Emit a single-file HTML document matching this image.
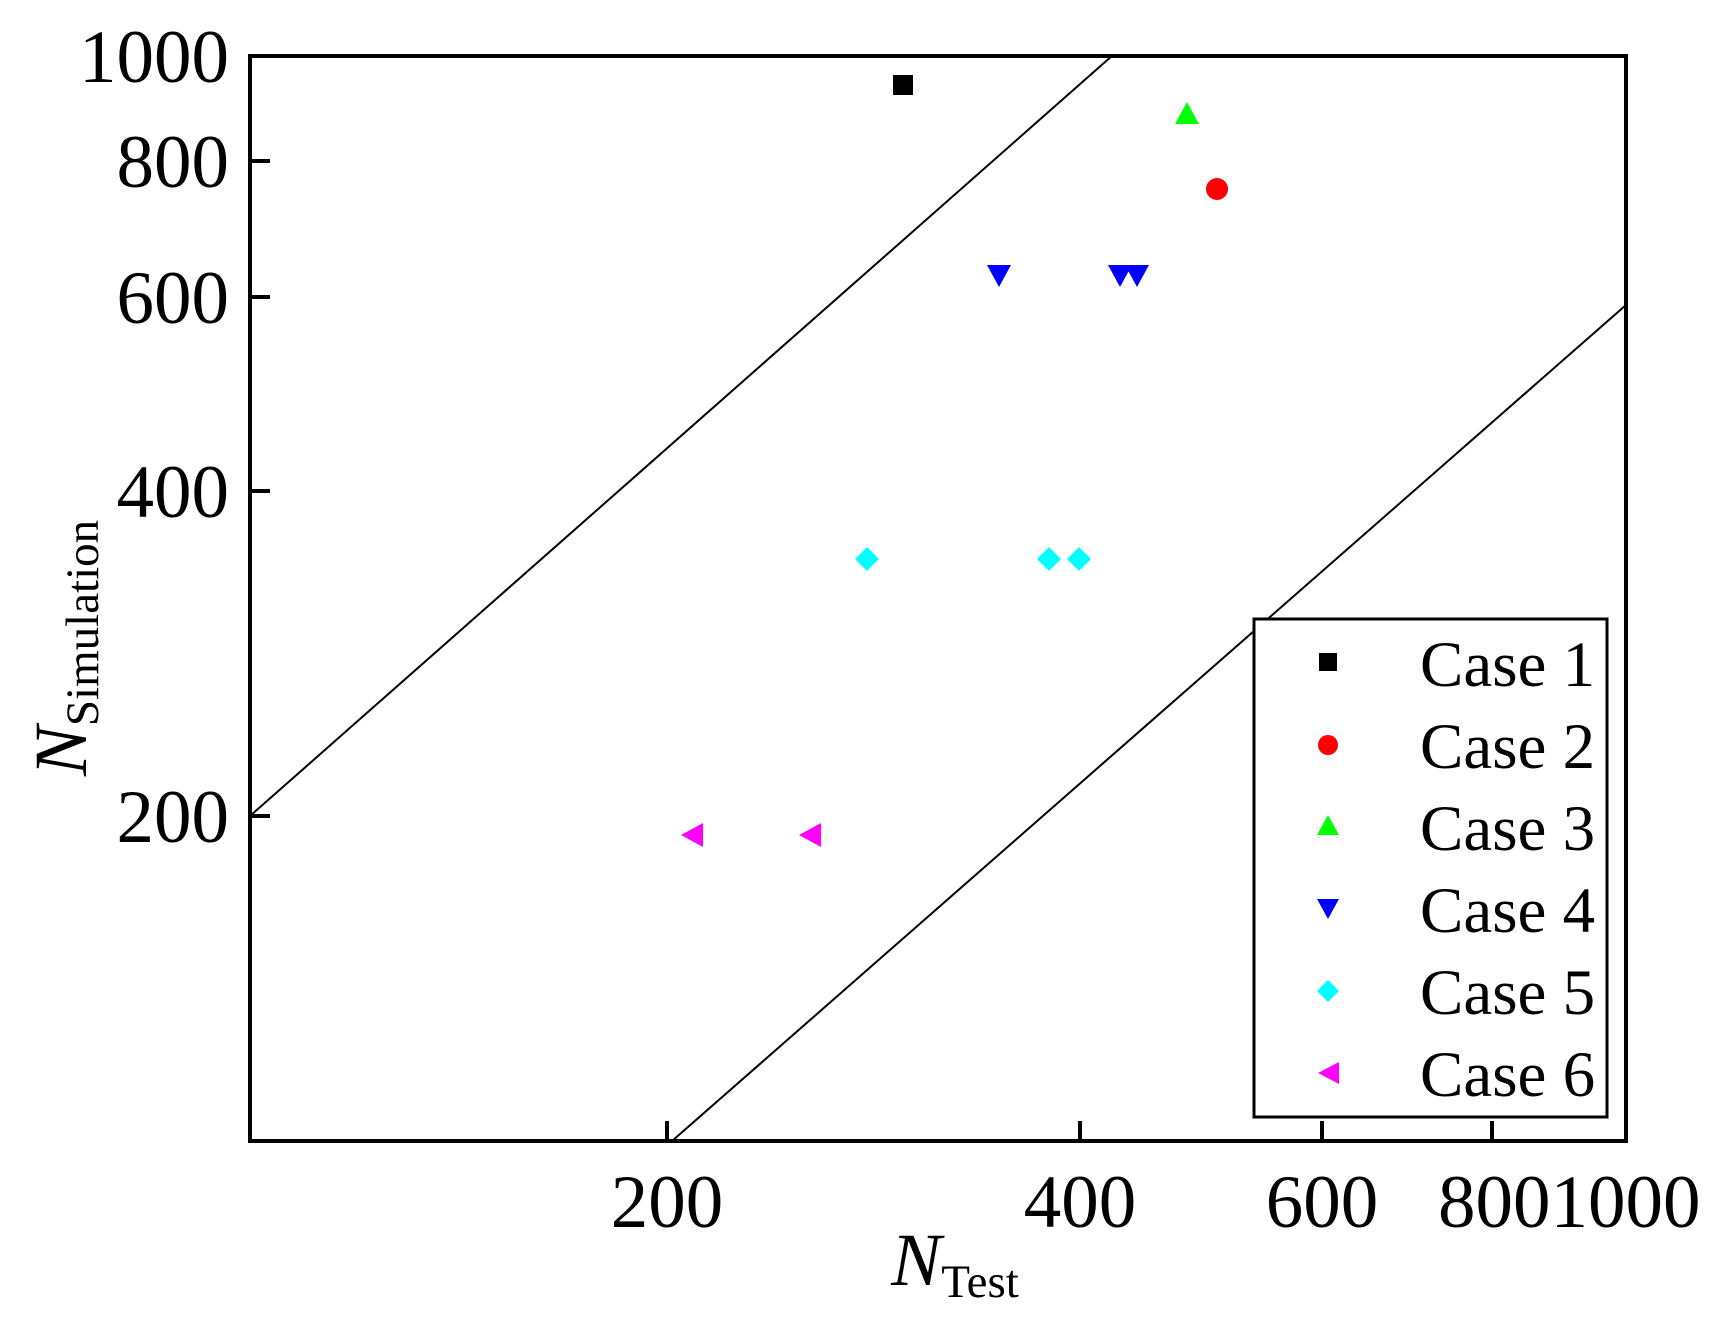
<!DOCTYPE html>
<html><head><meta charset="utf-8"><style>
html,body{margin:0;padding:0;background:#fff;}
svg{display:block;font-family:"Liberation Serif",serif;}
</style></head><body>
<svg width="1721" height="1318" viewBox="0 0 1721 1318" xmlns="http://www.w3.org/2000/svg">
<rect width="1721" height="1318" fill="#fff"/>
<line x1="250" y1="816" x2="1113" y2="55" stroke="#000" stroke-width="2"/>
<line x1="672" y1="1141" x2="1626" y2="305" stroke="#000" stroke-width="2"/>
<rect x="250" y="56" width="1376" height="1085" fill="none" stroke="#000" stroke-width="4"/>
<g stroke="#000" stroke-width="4">
<line x1="250" y1="161" x2="270" y2="161"/>
<line x1="250" y1="297" x2="270" y2="297"/>
<line x1="250" y1="491" x2="270" y2="491"/>
<line x1="250" y1="816" x2="270" y2="816"/>
<line x1="667" y1="1141" x2="667" y2="1121"/>
<line x1="1080" y1="1141" x2="1080" y2="1121"/>
<line x1="1322" y1="1141" x2="1322" y2="1121"/>
<line x1="1492" y1="1141" x2="1492" y2="1121"/>
</g>
<g font-size="75" text-anchor="end">
<text x="229" y="82">1000</text>
<text x="229" y="187">800</text>
<text x="229" y="323">600</text>
<text x="229" y="517">400</text>
<text x="229" y="842">200</text>
</g>
<g font-size="75" text-anchor="middle">
<text x="667" y="1227">200</text>
<text x="1080" y="1227">400</text>
<text x="1322" y="1227">600</text>
</g>
<text x="1438" y="1227" font-size="75">8001000</text>
<text x="955" y="1285" font-size="75" text-anchor="middle"><tspan font-style="italic">N</tspan><tspan font-size="47" dy="12">Test</tspan></text>
<text transform="translate(86,648) rotate(-90)" font-size="75" text-anchor="middle"><tspan font-style="italic">N</tspan><tspan font-size="47" dy="12">Simulation</tspan></text>
<rect x="893" y="75" width="20" height="20" fill="#000"/>
<polygon points="1187,102 1199,124 1175,124" fill="#00ff00"/>
<circle cx="1217" cy="189" r="11" fill="#ff0000"/>
<g fill="#0000ff">
<polygon points="987,265 1011,265 999,287"/>
<polygon points="1108,265 1132,265 1120,287"/>
<polygon points="1125,265 1149,265 1137,287"/>
</g>
<g fill="#00ffff">
<polygon points="867,547 879,559 867,571 855,559"/>
<polygon points="1049,547 1061,559 1049,571 1037,559"/>
<polygon points="1079,547 1091,559 1079,571 1067,559"/>
</g>
<g fill="#ff00ff">
<polygon points="681,835 703,823 703,847"/>
<polygon points="799,835 821,823 821,847"/>
</g>
<rect x="1254" y="619" width="353" height="498" fill="#fff" stroke="#000" stroke-width="3"/>
<rect x="1319" y="653" width="18" height="18" fill="#000"/>
<circle cx="1328" cy="745" r="10" fill="#ff0000"/>
<polygon points="1328,815 1339,835 1317,835" fill="#00ff00"/>
<polygon points="1317,899 1339,899 1328,919" fill="#0000ff"/>
<polygon points="1328,980 1339,991 1328,1002 1317,991" fill="#00ffff"/>
<polygon points="1318,1073 1339,1062 1339,1084" fill="#ff00ff"/>
<g font-size="65">
<text x="1420" y="686">Case 1</text>
<text x="1420" y="768">Case 2</text>
<text x="1420" y="850">Case 3</text>
<text x="1420" y="932">Case 4</text>
<text x="1420" y="1014">Case 5</text>
<text x="1420" y="1096">Case 6</text>
</g>
</svg>
</body></html>
